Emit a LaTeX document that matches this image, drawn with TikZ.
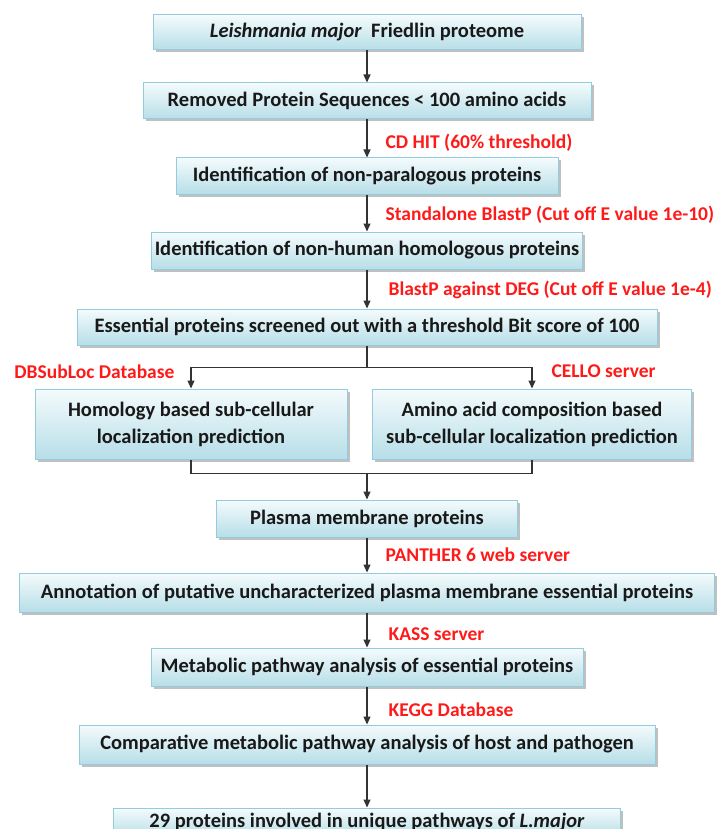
\documentclass[tikz,border=0pt]{standalone}
\usepackage{fontspec}
\setmainfont{Carlito}
\usepackage{tikz}
\usetikzlibrary{positioning,arrows.meta,shadows}
\definecolor{boxline}{HTML}{93CDDD}
\definecolor{boxtop}{HTML}{F4FBFC}
\definecolor{boxbottom}{HTML}{B7DEE8}
\definecolor{toolred}{HTML}{FF1A1A}

\begin{document}
\begin{tikzpicture}[x=1pt, y=1pt,
                stepbox/.style={draw=boxline, line width=1pt, top color=boxtop, bottom color=boxbottom,
                    drop shadow={shadow xshift=2.5pt, shadow yshift=-2.5pt, fill=black!45, opacity=0.55},
                    minimum height=36pt, inner sep=0pt, align=center, text=black!90,
                    font=\fontsize{20.5}{27}\selectfont\bfseries},
                toollabel/.style={text=toolred, inner sep=0pt, font=\fontsize{19.5}{22}\selectfont\bfseries},
                flow/.style={-{Triangle[length=8pt, width=7pt]}, line width=1.2pt, black!80},
                joint/.style={line width=1.2pt, black!80},
            ]
            \useasboundingbox (0,0) rectangle (720,-829);
            %Nodes
            \node[stepbox, minimum width=428pt, minimum height=35pt] (proteome) at (367,-32.5) {\textit{Leishmania major}\ \ Friedlin proteome};
            \node[stepbox, minimum width=448pt]                (removed)     [below=32pt of proteome]   {Removed Protein Sequences < 100 amino acids};
            \node[stepbox, minimum width=382pt]                (paralog)     [below=38pt of removed]    {Identification of non-paralogous proteins};
            \node[stepbox, minimum width=431pt, minimum height=37pt] (nonhuman) [below=37pt of paralog] {Identification of non-human homologous proteins};
            \node[stepbox, minimum width=580pt]                (essential)   [below=39pt of nonhuman]   {Essential proteins screened out with a threshold Bit score of 100};
            \path (essential.south) ++(0,-22) coordinate (split);
            \node[stepbox, minimum width=312pt, minimum height=70pt] (homology) [below=43pt of essential, xshift=-176pt] {Homology based sub-cellular\\localization prediction};
            \node[stepbox, minimum width=319pt, minimum height=70pt] (composition) [below=43pt of essential, xshift=165pt] {Amino acid composition based\\sub-cellular localization prediction};
            \path (homology.south -| essential.south) ++(0,-14) coordinate (merge);
            \node[stepbox, minimum width=301pt, minimum height=37pt] (plasma)   [below=26pt of merge]      {Plasma membrane proteins};
            \node[stepbox, minimum width=695pt, minimum height=39pt] (annotation) [below=35pt of plasma] {Annotation of putative uncharacterized plasma membrane essential proteins};
            \node[stepbox, minimum width=432pt, minimum height=38pt] (metabolic) [below=35pt of annotation] {Metabolic pathway analysis of essential proteins};
            \node[stepbox, minimum width=576pt, minimum height=39pt] (comparative) [below=38pt of metabolic] {Comparative metabolic pathway analysis of host and pathogen};
            \node[stepbox, minimum width=507pt, minimum height=29pt] (unique)   [below=43pt of comparative] {29 proteins involved in unique pathways of \textit{L.major}};

            %Lines
            \draw[flow] (proteome) -- (removed);
            \draw[flow] (removed) -- node[toollabel, pos=0.6, anchor=west, xshift=18pt] {CD HIT (60\% threshold)} (paralog);
            \draw[flow] (paralog) -- node[toollabel, pos=0.55, anchor=west, xshift=18pt] {Standalone BlastP (Cut off E value 1e-10)} (nonhuman);
            \draw[flow] (nonhuman) -- node[toollabel, pos=0.52, anchor=west, xshift=21pt] {BlastP against DEG (Cut off E value 1e-4)} (essential);
            \draw[joint] (essential) -- (split);
            \draw[flow] (split) -| node[toollabel, pos=0.5, anchor=east, xshift=-16pt, yshift=-4pt] {DBSubLoc Database} (homology);
            \draw[flow] (split) -| node[toollabel, pos=0.5, anchor=west, xshift=19pt, yshift=-4pt] {CELLO server} (composition);
            \draw[joint] (homology) |- (merge) -| (composition);
            \draw[flow] (merge) -- (plasma);
            \draw[flow] (plasma) -- node[toollabel, pos=0.5, anchor=west, xshift=18pt] {PANTHER 6 web server} (annotation);
            \draw[flow] (annotation) -- node[toollabel, pos=0.62, anchor=west, xshift=21pt] {KASS server} (metabolic);
            \draw[flow] (metabolic) -- node[toollabel, pos=0.6, anchor=west, xshift=21pt] {KEGG Database} (comparative);
            \draw[flow] (comparative) -- (unique);
        \end{tikzpicture}
\end{document}
